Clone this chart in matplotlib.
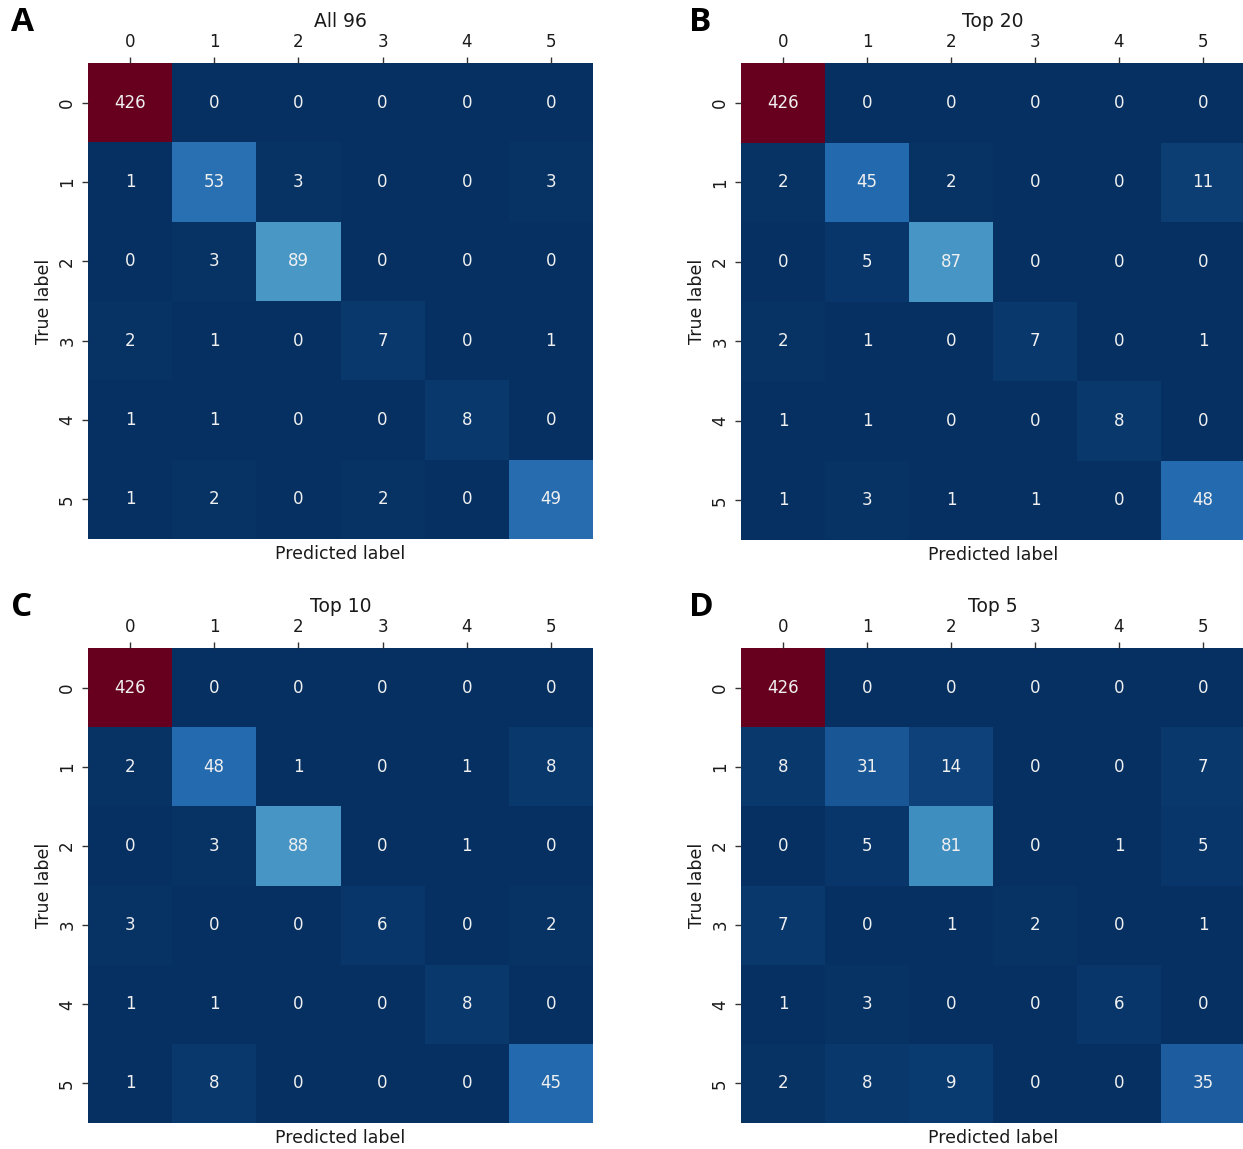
import numpy as np
import matplotlib
matplotlib.use("Agg")
import matplotlib.pyplot as plt
import seaborn as sns

classes = [0, 1, 2, 3, 4, 5]
titles = ["All 96", "Top 20", "Top 10", "Top 5"]
letters = ["A", "B", "C", "D"]

cm_all96 = [[426, 0, 0, 0, 0, 0],
            [1, 53, 3, 0, 0, 3],
            [0, 3, 89, 0, 0, 0],
            [2, 1, 0, 7, 0, 1],
            [1, 1, 0, 0, 8, 0],
            [1, 2, 0, 2, 0, 49]]
cm_top20 = [[426, 0, 0, 0, 0, 0],
            [2, 45, 2, 0, 0, 11],
            [0, 5, 87, 0, 0, 0],
            [2, 1, 0, 7, 0, 1],
            [1, 1, 0, 0, 8, 0],
            [1, 3, 1, 1, 0, 48]]
cm_top10 = [[426, 0, 0, 0, 0, 0],
            [2, 48, 1, 0, 1, 8],
            [0, 3, 88, 0, 1, 0],
            [3, 0, 0, 6, 0, 2],
            [1, 1, 0, 0, 8, 0],
            [1, 8, 0, 0, 0, 45]]
cm_top5 = [[426, 0, 0, 0, 0, 0],
           [8, 31, 14, 0, 0, 7],
           [0, 5, 81, 0, 1, 5],
           [7, 0, 1, 2, 0, 1],
           [1, 3, 0, 0, 6, 0],
           [2, 8, 9, 0, 0, 35]]
matrices = [cm_all96, cm_top20, cm_top10, cm_top5]

plt.rcParams['font.family'] = ['DejaVu Sans']
fig = plt.figure(figsize=(12.43, 11.49), dpi=100)

W, H = 1243.0, 1149.0
boxes = [(88, 63, 593, 539), (741, 63, 1245, 540),
         (88, 648, 593, 1123), (741, 648, 1245, 1123)]
letter_pos = [(11, 6), (689, 6), (11, 591), (689, 591)]

for i, (m, t, L, b) in enumerate(zip(matrices, titles, letters, boxes)):
    x0, y0, x1, y1 = b
    ax = fig.add_axes([x0 / W, 1 - y1 / H, (x1 - x0) / W, (y1 - y0) / H])
    sns.heatmap(np.array(m), ax=ax, cmap="RdBu_r", vmin=0, vmax=426,
                annot=True, fmt="d", cbar=False,
                xticklabels=classes, yticklabels=classes,
                annot_kws={"fontsize": 12, "color": "#f0f0f0"})
    ax.xaxis.tick_top()
    ax.xaxis.set_label_position("bottom")
    ax.set_xlabel("Predicted label", fontsize=12.5, color="#1a1a1a", labelpad=4)
    ax.set_ylabel("True label", fontsize=12.5, color="#1a1a1a", labelpad=4)
    ax.tick_params(axis="both", labelsize=12, length=4.5, width=1,
                   color="#333333", labelcolor="#1a1a1a", pad=4)
    plt.setp(ax.get_yticklabels(), rotation=90, va="center")
    plt.setp(ax.get_xticklabels(), rotation=0)
    ax.set_title(t, fontsize=13.5, color="#1a1a1a", pad=26)
    lx, ly = letter_pos[i]
    fig.text(lx / W, 1 - ly / H, L, fontsize=24, fontweight="bold",
             family=["Open Sans", "DejaVu Sans"], va="top", ha="left")

fig.savefig("out.png", dpi=100)
